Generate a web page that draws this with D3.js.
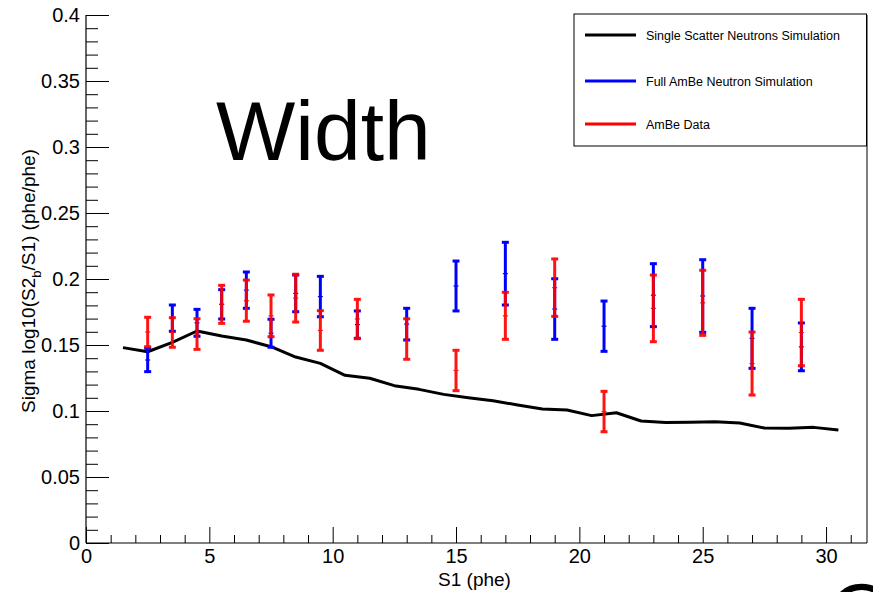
<!DOCTYPE html>
<html>
<head>
<meta charset="utf-8">
<script src="https://cdn.jsdelivr.net/npm/d3@7"></script>
<style>
  html, body { margin: 0; padding: 0; background: #fff; }
  svg { display: block; font-family: "Liberation Sans", Arial, Helvetica, sans-serif; }
</style>
</head>
<body>
<svg id="chart" width="873" height="592"></svg>
<script>
// ---- Data ----
const lineX = [1.5,2.5,3.5,4.5,5.5,6.5,7.5,8.5,9.5,10.5,11.5,12.5,13.5,14.5,15.5,16.5,17.5,18.5,19.5,20.5,21.5,22.5,23.5,24.5,25.5,26.5,27.5,28.5,29.5,30.5];
const lineY = [0.148,0.1449,0.152,0.1606,0.1568,0.1538,0.1487,0.1409,0.1361,0.127,0.1248,0.1192,0.1164,0.1126,0.1101,0.1078,0.1045,0.1015,0.1008,0.0965,0.0987,0.0924,0.0912,0.0914,0.0919,0.0909,0.0871,0.0869,0.0876,0.0856];

const barX = [2.5,3.5,4.5,5.5,6.5,7.5,8.5,9.5,11,13,15,17,19,21,23,25,27,29];
// Full AmBe Neutron Simulation (blue): low / high ends of error bars
const blueLo = [0.1298,0.1604,0.1566,0.1697,0.1778,0.1483,0.1752,0.1714,0.1551,0.1538,0.1758,0.1803,0.1543,0.1452,0.1639,0.1596,0.1323,0.1305];
const blueHi = [0.1475,0.1803,0.1770,0.1919,0.2053,0.1695,0.2030,0.2020,0.1758,0.1778,0.2136,0.2278,0.2002,0.1833,0.2116,0.2146,0.1778,0.1667];
// AmBe Data (red)
const redLo = [0.1487,0.1483,0.1467,0.1664,0.1680,0.1563,0.1674,0.1460,0.1548,0.1392,0.1154,0.1543,0.1717,0.0843,0.1525,0.1573,0.1121,0.1343];
const redHi = [0.1710,0.1707,0.1699,0.1952,0.1992,0.1879,0.2036,0.1760,0.1846,0.1699,0.1460,0.1899,0.2152,0.1149,0.2030,0.2066,0.1598,0.1846];

const xMajorTicks = [0,5,10,15,20,25,30];
const yMajorTicks = [0,0.05,0.1,0.15,0.2,0.25,0.3,0.35,0.4];
const legendLabels = ["Single Scatter Neutrons Simulation","Full AmBe Neutron Simulation","AmBe Data"];
const legendColors = ["#000000","#0000ff","#ff0000"];

// ---- Layout ----
const svg = d3.select("#chart");
const L = 86, R = 867, T = 15, B = 543;
const x = d3.scaleLinear().domain([0, 31.66]).range([L, R]);
const y = d3.scaleLinear().domain([0, 0.4]).range([B, T]);

svg.append("rect").attr("width", 873).attr("height", 592).attr("fill", "#fff");

// frame (right border)
svg.append("line").attr("x1", R).attr("x2", R).attr("y1", T).attr("y2", B)
  .attr("stroke", "#000").attr("stroke-width", 1);

// x minor ticks
const xMinor = d3.range(0, 32, 1).filter(v => v % 5 !== 0);
const gxMinor = svg.append("g").attr("transform", `translate(0,${B})`)
  .call(d3.axisBottom(x).tickValues(xMinor).tickSize(-8).tickFormat(""));
gxMinor.select(".domain").remove();
// x major ticks
const gx = svg.append("g").attr("transform", `translate(0,${B})`)
  .call(d3.axisBottom(x).tickValues(xMajorTicks).tickSize(-16).tickPadding(6).tickFormat(d3.format("d")));
gx.select(".domain").remove();
gx.selectAll("text").attr("font-size", 20).attr("fill", "#000");

// y minor ticks
const yMinor = d3.range(0, 41, 1).map(v => v / 100).filter((v, i) => i % 5 !== 0);
const gyMinor = svg.append("g").attr("transform", `translate(${L},0)`)
  .call(d3.axisLeft(y).tickValues(yMinor).tickSize(-12).tickFormat(""));
gyMinor.select(".domain").remove();
const gy = svg.append("g").attr("transform", `translate(${L},0)`)
  .call(d3.axisLeft(y).tickValues(yMajorTicks).tickSize(-23).tickPadding(6)
    .tickFormat(d => d === 0 ? "0" : String(+d.toFixed(2))));
gy.select(".domain").remove();
gy.selectAll("text").attr("font-size", 20).attr("fill", "#000");
svg.selectAll(".tick line").attr("stroke", "#000").attr("stroke-width", 1);

// axis lines
svg.append("line").attr("x1", L).attr("x2", R).attr("y1", B).attr("y2", B).attr("stroke", "#000").attr("stroke-width", 1.2);
svg.append("line").attr("x1", L).attr("x2", L).attr("y1", T).attr("y2", B).attr("stroke", "#000").attr("stroke-width", 1.2);

// axis titles
svg.append("text").attr("x", (L + R) / 2 - 2).attr("y", 586).attr("text-anchor", "middle")
  .attr("font-size", 19).text("S1 (phe)");
const yt = svg.append("text").attr("transform", `translate(35,281) rotate(-90)`)
  .attr("text-anchor", "middle").attr("font-size", 19);
yt.append("tspan").text("Sigma log10(S2");
yt.append("tspan").attr("font-size", 13).attr("dy", 6).text("b");
yt.append("tspan").attr("dy", -6).text("/S1) (phe/phe)");

// big title
svg.append("text").attr("x", 216).attr("y", 160).attr("font-size", 84).text("Width");
// partial glyph cut at bottom-right (as in the reference)
svg.append("text").attr("x", 829).attr("y", 642).attr("font-size", 84).text("O");

// black line
svg.append("path")
  .datum(lineX.map((v, i) => [v, lineY[i]]))
  .attr("d", d3.line().x(d => x(d[0])).y(d => y(d[1])))
  .attr("fill", "none").attr("stroke", "#000").attr("stroke-width", 3).attr("stroke-linejoin", "round");

function drawBars(lo, hi, color, opacity) {
  const g = svg.append("g").attr("stroke", color).attr("opacity", opacity);
  barX.forEach((bx, i) => {
    const cx = x(bx), y1 = y(lo[i]), y2 = y(hi[i]), ym = y((lo[i] + hi[i]) / 2);
    g.append("line").attr("x1", cx).attr("x2", cx).attr("y1", y1).attr("y2", y2).attr("stroke-width", 3);
    g.append("line").attr("x1", cx - 3.5).attr("x2", cx + 3.5).attr("y1", y1).attr("y2", y1).attr("stroke-width", 3);
    g.append("line").attr("x1", cx - 3.5).attr("x2", cx + 3.5).attr("y1", y2).attr("y2", y2).attr("stroke-width", 3);
    g.append("line").attr("x1", cx - 2.5).attr("x2", cx + 2.5).attr("y1", ym).attr("y2", ym).attr("stroke-width", 1.2);
  });
}
drawBars(blueLo, blueHi, "#0000ff", 1);
drawBars(redLo, redHi, "#ff0000", 0.92);

// legend
svg.append("rect").attr("x", 574).attr("y", 14).attr("width", 292.5).attr("height", 132)
  .attr("fill", "#fff").attr("stroke", "#000").attr("stroke-width", 1);
const ly = [35, 81, 124];
legendLabels.forEach((t, i) => {
  svg.append("line").attr("x1", 585).attr("x2", 636).attr("y1", ly[i]).attr("y2", ly[i])
    .attr("stroke", legendColors[i]).attr("stroke-width", 3);
  svg.append("text").attr("x", 646).attr("y", ly[i] + 4.5).attr("font-size", 12.5).text(t);
});
</script>
</body>
</html>
